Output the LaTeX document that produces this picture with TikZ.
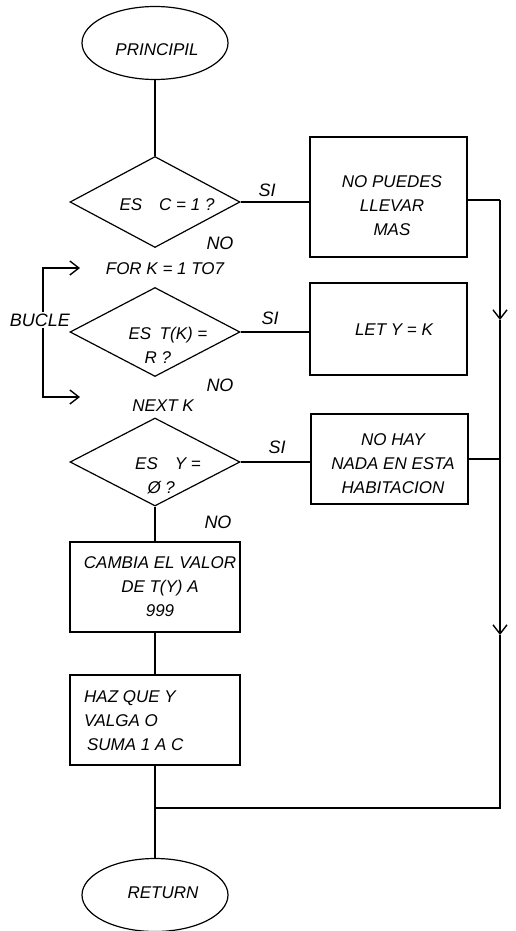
\documentclass[tikz,border=0pt]{standalone}
\usepackage{fontspec}
\setmainfont{Liberation Sans}
\usetikzlibrary{shapes.geometric,arrows.meta}
\tikzset{
  ln/.style={line width=1.2pt},
  term/.style={ellipse, draw, ln, minimum width=146pt, minimum height=73pt, inner sep=0pt},
  dia/.style={diamond, draw, ln, minimum width=170pt, minimum height=90pt, inner sep=0pt},
  box/.style={rectangle, draw, ln, inner sep=0pt},
  txt/.style={font=\fontsize{17}{24}\selectfont\itshape, align=center, inner sep=0pt},
  lbl/.style={font=\fontsize{18}{20}\selectfont\itshape, inner sep=0pt},
  arr/.style={-{Straight Barb[length=9pt,width=14pt,line width=1.4pt]}}
}
\begin{document}
\begin{tikzpicture}[x=1pt,y=-1pt]
\useasboundingbox (0,0) rectangle (515,931);

% terminals
\node[term] (start) at (155,43) {};
\node[txt] (tstart) at (157,50) {PRINCIPIL};
\node[term] (ret) at (155,895) {};
\node[txt] (tret) at (163,893) {RETURN};

% decisions
\node[dia, minimum height=91pt] (d1) at (155,202) {};
\node[txt] (td1) at (167,205) {ES\quad C = 1 ?};
\node[dia, minimum height=89pt] (d2) at (155,332) {};
\node[txt] (td2) at (168,345) {ES\enspace T(K) =\\R ?\hspace*{1.2em}};
\node[dia, minimum height=88pt] (d3) at (155,462) {};
\node[txt] (td3) at (168,476) {ES\quad Y =\\Ø ?\hspace*{0.8em}};

% loop texts
\node[txt] (for) at (165,269) {FOR K = 1 TO7};
\node[txt] (next) at (163,406) {NEXT K};
\node[lbl, fill=white, inner sep=1pt] (bucle) at (40,320) {BUCLE};

% boxes
\node[box, minimum width=157pt, minimum height=120pt] (b1) at (388.5,197) {};
\node[txt] (tb1) at (392,206) {NO PUEDES\\LLEVAR\\MAS};
\node[box, minimum width=157pt, minimum height=92pt] (b2) at (388.5,329) {};
\node[txt] (tb2) at (394,330) {LET Y = K};
\node[box, minimum width=157pt, minimum height=90pt] (b3) at (389.5,459) {};
\node[txt] (tb3) at (393,464) {NO HAY\\NADA EN ESTA\\HABITACION};
\node[box, minimum width=170pt, minimum height=90pt] (b4) at (155,587) {};
\node[txt] (tb4) at (160,587) {CAMBIA EL VALOR\\DE T(Y) A\\999};
\node[box, minimum width=170pt, minimum height=90pt] (b5) at (155,720) {};
\node[txt, align=left, anchor=west] (tb5) at (84,721) {HAZ QUE Y\\VALGA O\\\,SUMA 1 A C};

% labels
\node[lbl] (si1) at (267,190) {SI};
\node[lbl] (si2) at (270,318) {SI};
\node[lbl] (si3) at (277,447) {SI};
\node[lbl] (no1) at (220,243) {NO};
\node[lbl] (no2) at (220,385) {NO};
\node[lbl] (no3) at (218,522) {NO};

% coordinates
\coordinate (r1) at (500,200);
\coordinate (ra1) at (500,320);
\coordinate (r3) at (500,459);
\coordinate (ra2) at (500,635);
\coordinate (rb) at (500,808);
\coordinate (j) at (155,808);
\coordinate (bl1) at (43,268);
\coordinate (bl2) at (43,397);
\coordinate (bf) at (80,268);
\coordinate (bn) at (80,397);

% connectors
\draw[ln] (start) -- (d1.north);
\draw[ln] (d1.east) -- (b1.west |- d1.east);
\draw[ln] (d2.east) -- (b2.west |- d2.east);
\draw[ln] (d3.east) -- (b3.west |- d3.east);
\draw[ln] (b1.east |- r1) -- (r1);
\draw[ln, arr] (r1) -- (ra1);
\draw[ln, arr] (ra1) -- (ra2);
\draw[ln] (ra2) -- (rb) -- (j);
\draw[ln] (b3.east) -- (r3);
\draw[ln] (d3.south) -- (b4.north);
\draw[ln] (b4.south) -- (b5.north);
\draw[ln] (b5.south) -- (ret.north);
\draw[ln, arr] (bucle.north -| bl1) -- (bl1) -- (bf);
\draw[ln, arr] (bucle.south -| bl2) -- (bl2) -- (bn);
\end{tikzpicture}
\end{document}
